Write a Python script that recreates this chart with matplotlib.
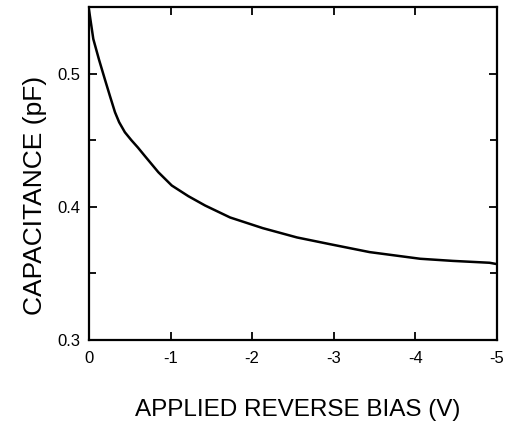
import matplotlib.pyplot as plt
from matplotlib.ticker import MultipleLocator

plt.rcParams['font.family'] = ['Liberation Sans', 'DejaVu Sans']

# Capacitance vs applied reverse bias
bias = [0.0, -0.053, -0.123, -0.196, -0.258, -0.319, -0.37, -0.44, -0.52,
        -0.60, -0.687, -0.850, -1.015, -1.218, -1.423, -1.73, -2.13, -2.55,
        -2.95, -3.44, -4.06, -4.46, -4.91, -5.0]
capacitance = [0.548, 0.526, 0.5105, 0.4955, 0.483, 0.471, 0.4635, 0.456,
               0.450, 0.4445, 0.438, 0.426, 0.416, 0.408, 0.401, 0.392,
               0.384, 0.377, 0.372, 0.366, 0.361, 0.3594, 0.358, 0.357]

x_ticks = [0, -1, -2, -3, -4, -5]
y_ticks = [0.3, 0.4, 0.5]

fig = plt.figure(figsize=(5.07, 4.22), dpi=100)
ax = fig.add_axes([0.1755, 0.1943, 0.8045, 0.789])

ax.plot(bias, capacitance, color='black', linewidth=1.8)

ax.set_xlim(0, -5)
ax.set_ylim(0.3, 0.55)
ax.set_xticks(x_ticks)
ax.set_xticklabels([str(t) for t in x_ticks])
ax.set_yticks(y_ticks)
ax.set_yticklabels(['0.3', '0.4', '0.5'])
ax.yaxis.set_minor_locator(MultipleLocator(0.05))

ax.tick_params(which='both', direction='in', top=True, right=True,
               labelsize=12, width=1.3)
ax.tick_params(axis='x', pad=8)
ax.tick_params(axis='y', pad=6)
ax.tick_params(which='major', length=6)
ax.tick_params(which='minor', length=5)
for s in ax.spines.values():
    s.set_linewidth(1.6)

ax.set_xlabel('APPLIED REVERSE BIAS (V)', fontsize=17.5, labelpad=24, x=0.512)
ax.set_ylabel('CAPACITANCE (pF)', fontsize=19, labelpad=8, y=0.435)

fig.savefig('out.png', dpi=100)
